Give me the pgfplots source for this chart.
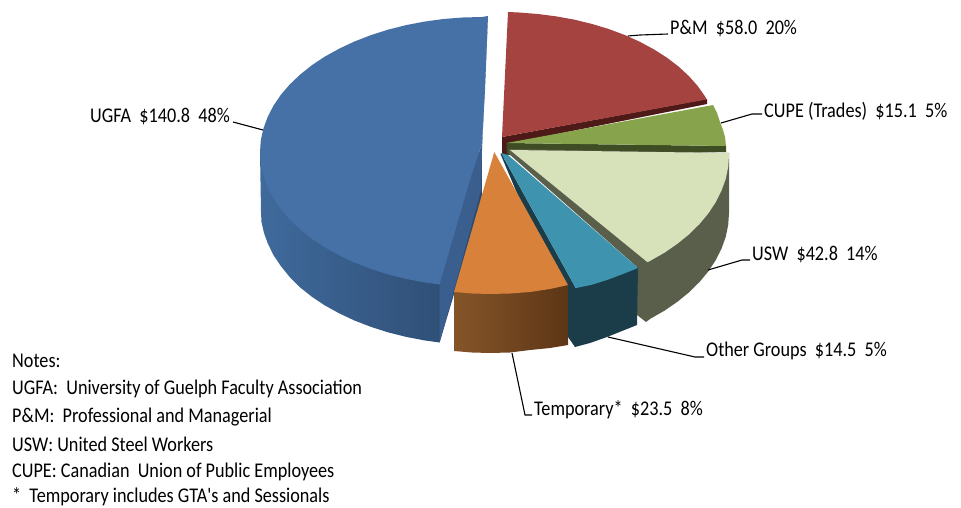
\documentclass[border=0pt]{standalone}
\usepackage{fontspec}
\setmainfont{Carlito}
\usepackage{pgfplots}
\pgfplotsset{compat=1.18}
\definecolor{blueTop}{HTML}{4671A7}
\definecolor{blueCut}{HTML}{3A5F8E}
\definecolor{blueL}{HTML}{3F6A9C}
\definecolor{blueR}{HTML}{2C4A6E}
\definecolor{redTop}{HTML}{A44340}
\definecolor{redCut}{HTML}{4E1A18}
\definecolor{grnTop}{HTML}{87A34C}
\definecolor{grnCut}{HTML}{3F4D24}
\definecolor{lgtTop}{HTML}{D7E2BB}
\definecolor{lgtCut}{HTML}{5A5F4C}
\definecolor{tealTop}{HTML}{3E93AE}
\definecolor{tealCut}{HTML}{1B3D49}
\definecolor{orgTop}{HTML}{D7813B}
\definecolor{orgL}{HTML}{855529}
\definecolor{orgR}{HTML}{5D3616}
\tikzset{
  lab/.style={anchor=west,inner sep=0pt,font=\fontsize{18.2}{20}\selectfont},
  lead/.style={draw=black,line width=1.1pt},
}
\newcommand{\tall}[1]{\scalebox{1}[1.15]{#1}}
\begin{document}
\begin{tikzpicture}[x=1pt,y=1pt]
\useasboundingbox (0,0) rectangle (961,508);
\begin{axis}[at={(0,0)},anchor=south west,scale only axis,width=961pt,height=508pt,
  xmin=0,xmax=961,ymin=0,ymax=508,y dir=reverse,hide axis,clip=false]

% UGFA
\addplot[draw=none,left color=blueL,right color=blueR] coordinates {
 (260,152)(261,212)(261.5,222)(264,233)(267.6,243)(273.4,255)(280.8,266)(289.7,277)
 (300.1,287.4)(311.9,296.8)(325,305.5)(339.3,313.4)(354.7,320.6)(371,326.9)(388.2,332.4)(406.1,336.9)
 (424.5,340.4)(439.6,342.5)(482,200)(482,152)} --cycle;
\addplot[fill=blueCut,draw=none] coordinates {
 (488,16)(482,150)(481,190)(439.6,342.5)(439.6,284.5)(470,180)(482,143)} --cycle;
\addplot[fill=blueTop,draw=none] coordinates {
 (488,16)(482,17)(462.6,17.5)(443.4,19)(424.5,21.6)(406.1,25.1)(388.2,29.6)(371,35.1)(354.7,41.4)(339.3,48.6)
 (325,56.5)(311.9,65.2)(300.1,74.6)(289.7,84.5)(280.8,94.9)(273.4,105.8)(267.6,117.1)(263.4,128.6)
 (260.8,140.2)(260,152)(260.8,163.8)(263.4,175.4)(267.6,186.9)(273.4,198.2)(280.8,209.1)(289.7,219.5)
 (300.1,229.4)(311.9,238.8)(325,247.5)(339.3,255.4)(354.7,262.6)(371,268.9)(388.2,274.4)(406.1,278.9)
 (424.5,282.4)(439.6,284.5)(470,180)(482,143)(485,90)} --cycle;

% P&M
\addplot[fill=redCut,draw=none] coordinates {(502,137)(707,99)(707,104)(507,144)(507,158)(502,158)} --cycle;
\addplot[fill=redTop,draw=none] coordinates {
 (508,12)(519,12.5)(537.9,14)(556.4,16.4)(574.6,19.7)(592.1,24)(609,29.1)(625,35.1)(640.1,41.9)(654.1,49.5)
 (667,57.7)(678.6,66.6)(688.8,76)(697.6,85.9)(704.9,96.2)(706.7,99.4)(502,137)} --cycle;

% CUPE (Trades)
\addplot[fill=grnCut,draw=none] coordinates {(506.5,143)(726,146)(726,152)(506.5,155)} --cycle;
\addplot[fill=grnTop,draw=none] coordinates {(506.5,143)(713,105)(717,113)(720,122)(723,130)(725,137)(726,146)} --cycle;

% USW
\addplot[fill=lgtCut,draw=none] coordinates {
 (509,149)(509,154)(637,267)(637,315)(646,322)(650.4,318.7)(664.6,310.6)(677.5,301.7)(689.2,292.2)(699.5,282)(708.4,271.3)
 (715.7,260.2)(721.5,248.7)(725.7,237)(728.2,225)(729,213)(729,153)} --cycle;
\addplot[fill=lgtTop,draw=none] coordinates {
 (510,150)(729,153)(729,155)(728.2,167)(725.7,179)(721.5,190.7)(715.7,202.2)(708.4,213.3)(699.5,224)(689.2,234.2)
 (677.5,243.7)(664.6,252.6)(650.4,260.7)(647.5,262.2)} --cycle;

% Other Groups
\addplot[fill=tealCut,draw=none] coordinates {
 (500.5,154)(519,198)(567,286)(568,337)(575,347)(590,343)(607,337)(622,331)(637,325)(638,267)(575.7,288)(501,153)} --cycle;
\addplot[fill=tealTop,draw=none] coordinates {(501,153)(508,155)(638,268)(623,274)(607,280)(591,285)(575.7,288)} --cycle;

% Temporary
\addplot[draw=none,left color=orgL,right color=orgR] coordinates {
 (454,292)(454,351)(472,352.5)(490,353)(510,352.5)(530,350)(550,348)(568,345)(568,285)} --cycle;
\addplot[fill=orgTop,draw=none] coordinates {
 (494.3,152)(568,285)(550,289)(530,292)(510,293.5)(490,294)(472,293.5)(454,292)} --cycle;

% leader lines
\addplot[lead] coordinates {(233,122)(263,130)};
\addplot[lead] coordinates {(628,36)(640,35)(668,34)};
\addplot[lead] coordinates {(721,123)(752,114)(762,114)};
\addplot[lead] coordinates {(708,270)(742,260)(750,260)};
\addplot[lead] coordinates {(608,337)(695,357)(704,357)};
\addplot[lead] coordinates {(512,353)(525,415)(532,415)};

% data labels
\node[lab] at (axis cs:90,117) {\tall{UGFA\ \ \$140.8\ \ 48\%}};
\node[lab] at (axis cs:670,29) {\tall{P\&M\ \ \$58.0\ \ 20\%}};
\node[lab] at (axis cs:764,111) {\tall{CUPE (Trades)\ \ \$15.1\ \ 5\%}};
\node[lab] at (axis cs:752,255) {\tall{USW\ \ \$42.8\ \ 14\%}};
\node[lab] at (axis cs:706,351) {\tall{Other Groups\ \ \$14.5\ \ 5\%}};
\node[lab] at (axis cs:534,410) {\tall{Temporary*\ \ \$23.5\ \ 8\%}};

% notes
\node[lab] at (axis cs:12,361) {\tall{Notes:}};
\node[lab] at (axis cs:12,389) {\tall{UGFA:\ \ University of Guelph Faculty Association}};
\node[lab] at (axis cs:12,417) {\tall{P\&M:\ \ Professional and Managerial}};
\node[lab] at (axis cs:12,444) {\tall{USW: United Steel Workers}};
\node[lab] at (axis cs:12,472) {\tall{CUPE: Canadian\ \ Union of Public Employees}};
\node[lab] at (axis cs:12,497) {\tall{*\ \ Temporary includes GTA\textquotesingle s and Sessionals}};
\end{axis}
\end{tikzpicture}
\end{document}
